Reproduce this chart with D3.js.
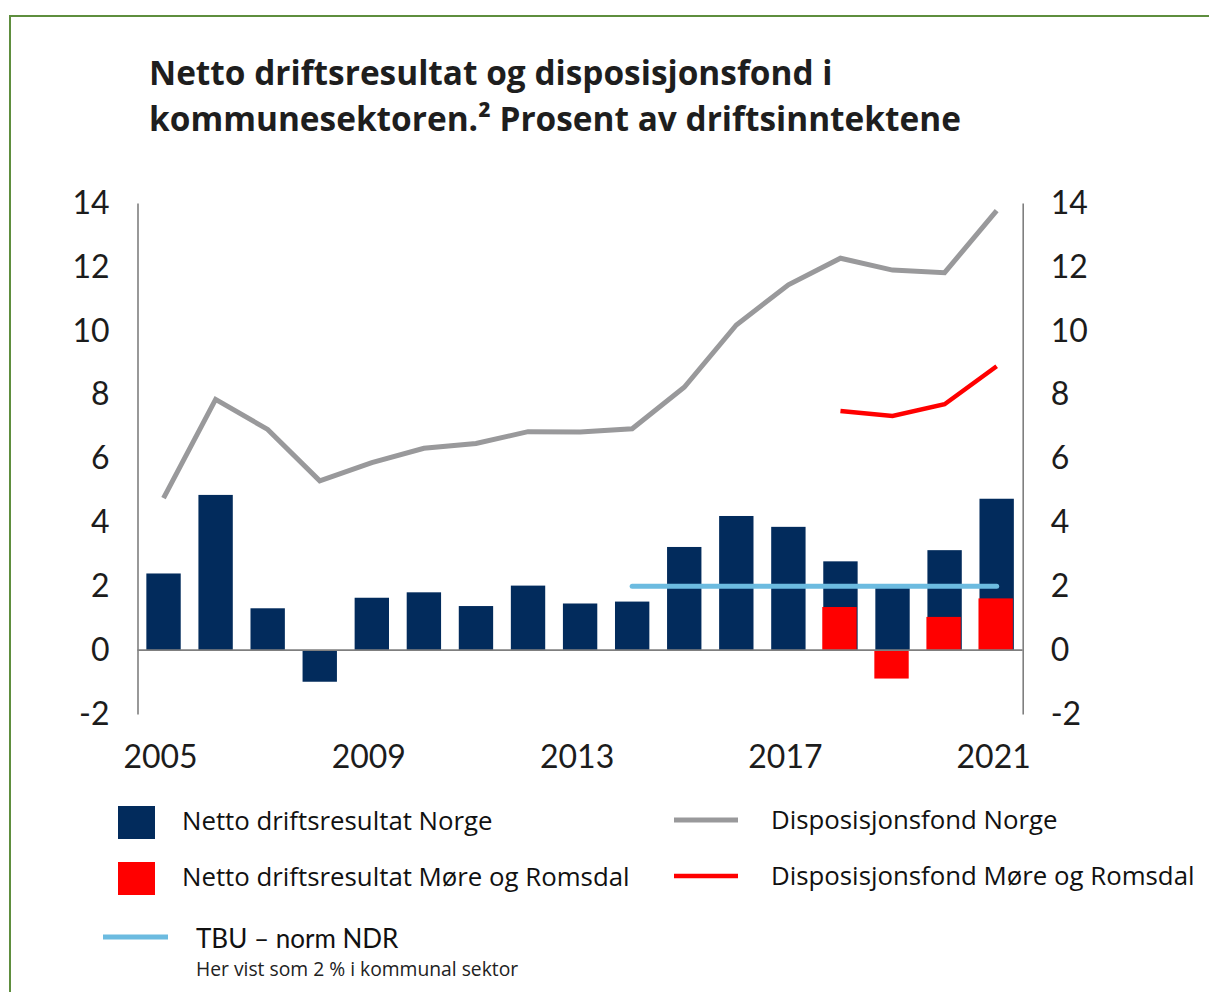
<!DOCTYPE html>
<html>
<head>
<meta charset="utf-8">
<script src="https://cdn.jsdelivr.net/npm/d3@7"></script>
<style>
  body { margin: 0; background: #fff; }
  svg { display: block; font-family: Lato, "Open Sans", sans-serif; }
  .axis text { fill: #1c1c1c; font-size: 32px; font-family: Lato, sans-serif; }
  .axis path { stroke: #7f7f7f; stroke-width: 1.6; }
  .legend-text { fill: #111; font-size: 25.8px; font-family: "Open Sans", sans-serif; }
</style>
</head>
<body>
<svg id="chart"></svg>
<script>
// Data
const years = [2005, 2006, 2007, 2008, 2009, 2010, 2011, 2012, 2013, 2014, 2015, 2016, 2017, 2018, 2019, 2020, 2021];
const ndrNorge = [2.40, 4.86, 1.31, -0.99, 1.64, 1.81, 1.38, 2.02, 1.46, 1.52, 3.23, 4.20, 3.86, 2.78, 1.95, 3.13, 4.74];
const dispNorge = [4.76, 7.85, 6.91, 5.30, 5.87, 6.32, 6.47, 6.84, 6.83, 6.93, 8.23, 10.18, 11.44, 12.27, 11.90, 11.82, 13.76];

const mrYears = [2018, 2019, 2020, 2021];
const ndrMR = [1.35, -0.89, 1.04, 1.62];
const dispMR = [7.49, 7.33, 7.70, 8.89];

const tbuYears = [2014, 2015, 2016, 2017, 2018, 2019, 2020, 2021];
const tbuValue = 2;

const yTicks = [-2, 0, 2, 4, 6, 8, 10, 12, 14];
const xTickLabels = [2005, 2009, 2013, 2017, 2021];

const titleLines = ['Netto driftsresultat og disposisjonsfond i', 'kommunesektoren.\u00b2 Prosent av driftsinntektene'];

const colors = { navy: '#022b5c', red: '#ff0000', gray: '#99999b', blue: '#6cbbe0', axis: '#7f7f7f', frame: '#5e8e3e' };

class ComboChart {
    constructor(_config) {
        this.config = {
            parentElement: _config.parentElement,
            width: 1209,
            height: 992,
            plot: { left: 137.5, right: 1022.7, top: 203, bottom: 714 }
        };
        this.initVis();
    }

    initVis() {
        let vis = this;
        const p = vis.config.plot;

        vis.svg = d3.select(vis.config.parentElement)
            .attr('width', vis.config.width)
            .attr('height', vis.config.height);

        // green frame (only top and left edges visible)
        vis.svg.append('path')
            .attr('d', `M10,${vis.config.height + 5} V16 H${vis.config.width + 5}`)
            .attr('fill', 'none')
            .attr('stroke', colors.frame)
            .attr('stroke-width', 2);

        // Title
        vis.svg.append('text')
            .attr('x', 149)
            .attr('y', 85)
            .attr('font-family', '"Open Sans", sans-serif')
            .attr('font-weight', 700)
            .attr('font-size', 33.4)
            .attr('fill', '#1e1e1e')
            .selectAll('tspan')
            .data(titleLines)
            .join('tspan')
                .attr('x', 149)
                .attr('dy', (d, i) => i === 0 ? 0 : 45.5)
                .text(d => d);

        vis.xScale = d3.scaleBand()
            .domain(years)
            .range([p.left, p.right])
            .paddingInner(0.34)
            .paddingOuter(0.17);

        vis.yScale = d3.scaleLinear()
            .domain([-2, 14])
            .range([p.bottom, p.top]);

        vis.chart = vis.svg.append('g');

        vis.renderVis();
    }

    renderVis() {
        let vis = this;
        const x = vis.xScale, y = vis.yScale;
        const cx = d => x(d) + x.bandwidth() / 2;

        // Norway bars
        vis.chart.selectAll('.bar-norge')
            .data(years.map((yr, i) => ({ year: yr, value: ndrNorge[i] })))
            .join('rect')
                .attr('class', 'bar-norge')
                .attr('x', d => x(d.year))
                .attr('width', x.bandwidth())
                .attr('y', d => y(Math.max(0, d.value)))
                .attr('height', d => Math.abs(y(d.value) - y(0)))
                .attr('fill', colors.navy);

        // Møre og Romsdal bars
        vis.chart.selectAll('.bar-mr')
            .data(mrYears.map((yr, i) => ({ year: yr, value: ndrMR[i] })))
            .join('rect')
                .attr('class', 'bar-mr')
                .attr('x', d => x(d.year) - 1)
                .attr('width', x.bandwidth())
                .attr('y', d => y(Math.max(0, d.value)))
                .attr('height', d => Math.abs(y(d.value) - y(0)))
                .attr('fill', colors.red);

        // zero line
        vis.chart.append('line')
            .attr('x1', vis.config.plot.left)
            .attr('x2', vis.config.plot.right)
            .attr('y1', y(0))
            .attr('y2', y(0))
            .attr('stroke', colors.axis)
            .attr('stroke-width', 1.6);

        const line = d3.line().x(d => cx(d.year)).y(d => y(d.value));

        // TBU norm line
        vis.chart.append('path')
            .datum(tbuYears.map(yr => ({ year: yr, value: tbuValue })))
            .attr('d', line)
            .attr('fill', 'none')
            .attr('stroke', colors.blue)
            .attr('stroke-width', 5)
            .attr('stroke-linecap', 'round');

        // Disposisjonsfond Norge
        vis.chart.append('path')
            .datum(years.map((yr, i) => ({ year: yr, value: dispNorge[i] })))
            .attr('d', line)
            .attr('fill', 'none')
            .attr('stroke', colors.gray)
            .attr('stroke-width', 5);

        // Disposisjonsfond Møre og Romsdal
        vis.chart.append('path')
            .datum(mrYears.map((yr, i) => ({ year: yr, value: dispMR[i] })))
            .attr('d', line)
            .attr('fill', 'none')
            .attr('stroke', colors.red)
            .attr('stroke-width', 4.5);

        // Axes (plain hyphen for negatives, like the original)
        const fmt = d => String(d);
        const yAxisL = d3.axisLeft(y).tickValues(yTicks).tickFormat(fmt).tickSize(0).tickSizeOuter(0).tickPadding(28);
        const yAxisR = d3.axisRight(y).tickValues(yTicks).tickFormat(fmt).tickSize(0).tickSizeOuter(0).tickPadding(28);
        const xAxis = d3.axisBottom(x).tickValues(xTickLabels).tickFormat(fmt).tickSize(0).tickPadding(31);

        vis.svg.append('g')
            .attr('class', 'axis y-axis')
            .attr('transform', `translate(${vis.config.plot.left},0)`)
            .call(yAxisL);

        vis.svg.append('g')
            .attr('class', 'axis y-axis')
            .attr('transform', `translate(${vis.config.plot.right},0)`)
            .call(yAxisR);

        vis.svg.append('g')
            .attr('class', 'axis x-axis')
            .attr('transform', `translate(-3,${vis.config.plot.bottom})`)
            .call(xAxis)
            .call(g => g.select('.domain').remove());

        vis.svg.selectAll('.axis').attr('font-family', null).attr('font-size', null);

        vis.renderLegend();
    }

    renderLegend() {
        let vis = this;
        const lg = vis.svg.append('g').attr('class', 'legend');

        const swatches = [
            { label: 'Netto driftsresultat Norge', color: colors.navy, y: 806 },
            { label: 'Netto driftsresultat Møre og Romsdal', color: colors.red, y: 862 }
        ];
        lg.selectAll('.swatch')
            .data(swatches)
            .join('rect')
                .attr('class', 'swatch')
                .attr('x', 118)
                .attr('y', d => d.y)
                .attr('width', 37)
                .attr('height', 33)
                .attr('fill', d => d.color);
        lg.selectAll('.swatch-label')
            .data(swatches)
            .join('text')
                .attr('class', 'legend-text swatch-label')
                .attr('x', 182)
                .attr('y', d => d.y + 24)
                .text(d => d.label);

        const lines = [
            { label: 'Disposisjonsfond Norge', color: colors.gray, y: 820, w: 5 },
            { label: 'Disposisjonsfond Møre og Romsdal', color: colors.red, y: 876, w: 4.5 }
        ];
        lg.selectAll('.line-key')
            .data(lines)
            .join('line')
                .attr('class', 'line-key')
                .attr('x1', 674).attr('x2', 738)
                .attr('y1', d => d.y).attr('y2', d => d.y)
                .attr('stroke', d => d.color)
                .attr('stroke-width', d => d.w);
        lg.selectAll('.line-label')
            .data(lines)
            .join('text')
                .attr('class', 'legend-text line-label')
                .attr('x', 771)
                .attr('y', d => d.y + 9)
                .text(d => d.label);

        lg.append('line')
            .attr('x1', 103).attr('x2', 168)
            .attr('y1', 937).attr('y2', 937)
            .attr('stroke', colors.blue)
            .attr('stroke-width', 5);
        lg.append('text')
            .attr('x', 196)
            .attr('y', 948)
            .attr('fill', '#111')
            .style('font-family', 'Lato, sans-serif')
            .style('font-size', '26px')
            .text('TBU – norm NDR');
        lg.append('text')
            .attr('x', 196)
            .attr('y', 976)
            .attr('fill', '#222')
            .style('font-family', '"Open Sans", sans-serif')
            .style('font-size', '19.3px')
            .text('Her vist som 2 % i kommunal sektor');
    }
}

new ComboChart({ parentElement: '#chart' });
</script>
</body>
</html>
